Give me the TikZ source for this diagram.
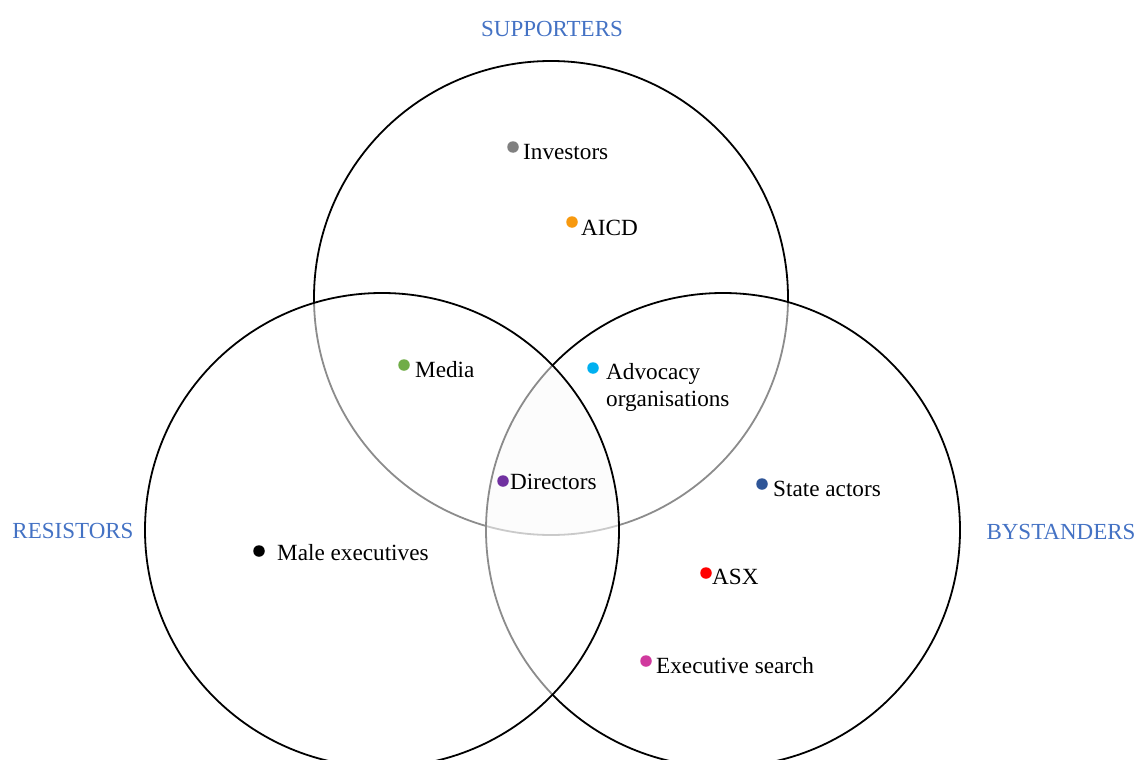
\documentclass[tikz,border=0pt]{standalone}
\usepackage{fontspec}
\setmainfont{Liberation Serif}
\definecolor{headblue}{HTML}{4472C4}
\definecolor{dotgray}{HTML}{808080}
\definecolor{dotorange}{HTML}{F7990F}
\definecolor{dotgreen}{HTML}{70AD47}
\definecolor{dotcyan}{HTML}{00B0F0}
\definecolor{dotpurple}{HTML}{7030A0}
\definecolor{dotnavy}{HTML}{2F5597}
\definecolor{dotred}{HTML}{FF0000}
\definecolor{dotpink}{HTML}{D0399E}
\begin{document}
\begin{tikzpicture}[x=1pt,y=-1pt,
  setcircle/.style={draw=black,line width=1.8pt,fill=white,fill opacity=0.55},
  grouplabel/.style={text=headblue,font=\fontsize{23}{27}\selectfont,inner sep=0pt},
  actor/.style={anchor=west,inner sep=0pt,font=\fontsize{23.2}{27}\selectfont,align=left},
  dot/.style={circle,fill=#1,draw=none,inner sep=0pt,minimum size=11.5pt}]
\useasboundingbox (0,0) rectangle (1135,760);
\clip (0,0) rectangle (1135,760);

% the three sets, drawn top, right, left
\draw[setcircle] (551,298) circle (237pt);
\draw[setcircle] (723,530) circle (237pt);
\draw[setcircle] (382,530) circle (237pt);

% faint tint of the common region
\begin{scope}
  \clip (551,298) circle (237pt);
  \clip (723,530) circle (237pt);
  \fill[black,opacity=0.007] (382,530) circle (237pt);
\end{scope}

% group headings
\node[grouplabel] (supporters) at (552,29) {SUPPORTERS};
\node[grouplabel] (resistors) at (73,531) {RESISTORS};
\node[grouplabel] (bystanders) at (1061,532) {BYSTANDERS};

% stakeholders
\node[dot=dotgray] (investorsdot) at (513,147) {};
\node[actor] (investors) at (523,152) {Investors};
\node[dot=dotorange] (aicddot) at (572,222) {};
\node[actor] (aicd) at (581,228) {AICD};
\node[dot=dotgreen] (mediadot) at (404,365) {};
\node[actor] (media) at (415,370) {Media};
\node[dot=dotcyan] (advocacydot) at (593,368) {};
\node[actor] (advocacy) at (606,387) {Advocacy\\organisations};
\node[dot=dotpurple] (directorsdot) at (503,481) {};
\node[actor] (directors) at (510,482) {Directors};
\node[dot=dotnavy] (statedot) at (762,484) {};
\node[actor] (state) at (773,489) {State actors};
\node[dot=dotred] (asxdot) at (706,573) {};
\node[actor] (asx) at (712,577) {ASX};
\node[dot=dotpink] (searchdot) at (646,661) {};
\node[actor] (search) at (656,666) {Executive search};
\node[dot=black] (maledot) at (259,551) {};
\node[actor] (male) at (277,553) {Male executives};
\end{tikzpicture}
\end{document}
